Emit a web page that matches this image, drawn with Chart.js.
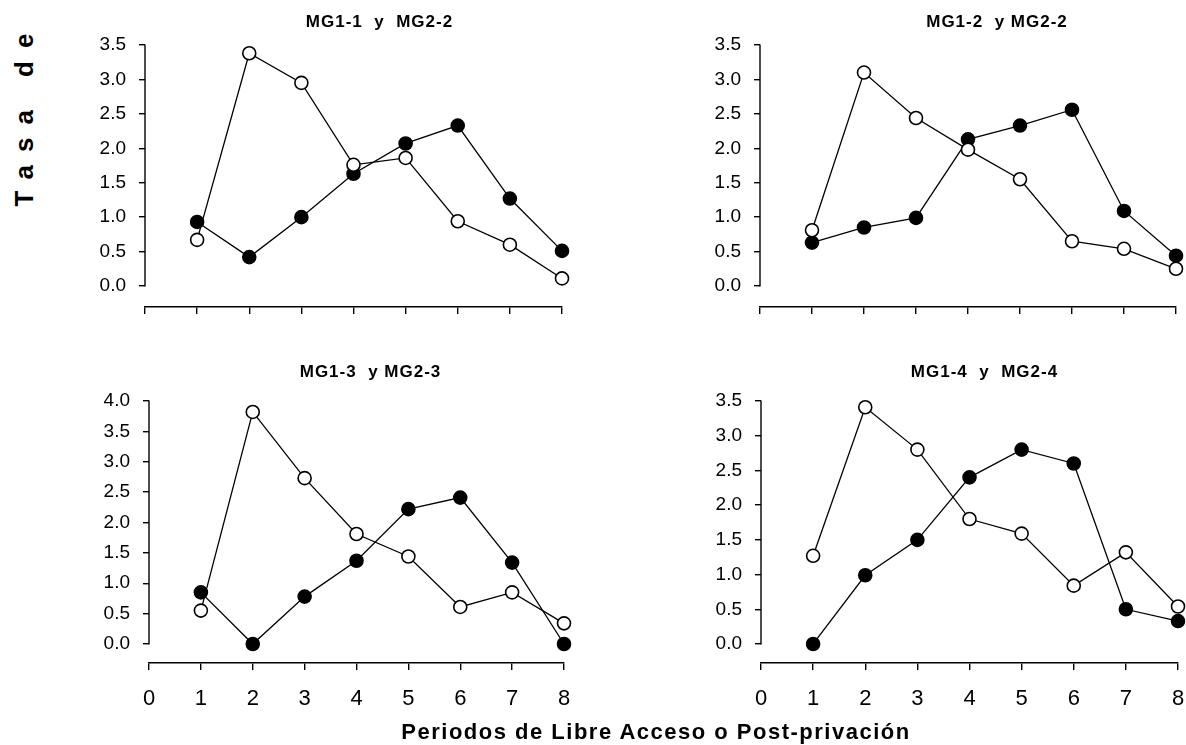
<!DOCTYPE html>
<html>
<head>
<meta charset="utf-8">
<script src="https://cdn.jsdelivr.net/npm/chart.js@4.4.1/dist/chart.umd.min.js"></script>
<style>
  body { margin: 0; background: #fff; }
  #wrap { position: relative; width: 1186px; height: 745px; overflow: hidden; background: #fff; }
  canvas { position: absolute; }
  .lbl { position: absolute; font-family: "Liberation Sans", Arial, sans-serif; font-weight: bold; color: #000; white-space: nowrap; text-align: center; }
  #ytitle { left: -96px; top: 105px; width: 240px; height: 30px; line-height: 30px; font-size: 26px; letter-spacing: 13px; text-indent: 13px; transform: rotate(-90deg); }
  #xtitle { left: 256px; top: 717px; width: 800px; height: 30px; line-height: 30px; font-size: 22px; letter-spacing: 1.5px; }
</style>
</head>
<body>
<div id="wrap">
  <canvas id="c1"></canvas>
  <canvas id="c2"></canvas>
  <canvas id="c3"></canvas>
  <canvas id="c4"></canvas>
  <div class="lbl" id="ytitle">Tasa de</div>
  <div class="lbl" id="xtitle">Periodos de Libre Acceso o Post-privación</div>
</div>
<script>
// periods on the x axis
const periods = [1, 2, 3, 4, 5, 6, 7, 8];
const xTicks = [0, 1, 2, 3, 4, 5, 6, 7, 8];
const yTicks35 = [0, 0.5, 1, 1.5, 2, 2.5, 3, 3.5];
const yTicks40 = [0, 0.5, 1, 1.5, 2, 2.5, 3, 3.5, 4];

const titles = ['MG1-1  y  MG2-2', 'MG1-2  y MG2-2', 'MG1-3  y MG2-3', 'MG1-4  y  MG2-4'];

// open circles
const open1 = [0.67, 3.38, 2.95, 1.76, 1.86, 0.94, 0.60, 0.11];
const open2 = [0.81, 3.10, 2.44, 1.98, 1.55, 0.65, 0.54, 0.25];
const open3 = [0.55, 3.82, 2.73, 1.81, 1.44, 0.61, 0.85, 0.34];
const open4 = [1.27, 3.41, 2.80, 1.80, 1.59, 0.84, 1.32, 0.54];
// filled circles
const filled1 = [0.93, 0.42, 1.00, 1.63, 2.07, 2.33, 1.27, 0.51];
const filled2 = [0.63, 0.85, 0.99, 2.13, 2.33, 2.56, 1.09, 0.44];
const filled3 = [0.85, 0.00, 0.78, 1.37, 2.22, 2.41, 1.34, 0.00];
const filled4 = [0.00, 0.99, 1.50, 2.40, 2.80, 2.60, 0.50, 0.33];

const FONT = '"Liberation Sans", Arial, sans-serif';
const PAD_L = 100, PAD_T = 50, PAD_R = 30, PAD_B = 60;

// plot boxes on the page
const panels = [
  { id: 'c1', left: 145, right: 562, top: 45,  bottom: 307, yMin: -0.305, yMax: 3.5, yTicks: yTicks35, xLabels: false, dx: 26, dy: 23, open: open1, filled: filled1, title: titles[0] },
  { id: 'c2', left: 760, right: 1176, top: 45, bottom: 307, yMin: -0.305, yMax: 3.5, yTicks: yTicks35, xLabels: false, dx: 29, dy: 23, open: open2, filled: filled2, title: titles[1] },
  { id: 'c3', left: 149, right: 564, top: 401, bottom: 663, yMin: -0.313, yMax: 4.0, yTicks: yTicks40, xLabels: true, dx: 14, dy: 29, open: open3, filled: filled3, title: titles[2] },
  { id: 'c4', left: 761, right: 1178, top: 401, bottom: 663, yMin: -0.274, yMax: 3.5, yTicks: yTicks35, xLabels: true, dx: 15, dy: 29, open: open4, filled: filled4, title: titles[3] }
];

// y axis line only spans 0..max, plus the panel heading
const panelDecor = {
  id: 'panelDecor',
  afterDraw(chart, args, opts) {
    const { ctx, chartArea: a } = chart;
    const y = chart.scales.y;
    ctx.save();
    ctx.strokeStyle = '#000';
    ctx.lineWidth = 1.4;
    ctx.beginPath();
    ctx.moveTo(a.left, y.getPixelForValue(0) + 0.5);
    ctx.lineTo(a.left, y.getPixelForValue(opts.yMax) - 0.5);
    ctx.stroke();
    ctx.fillStyle = '#000';
    ctx.font = 'bold 17px ' + FONT;
    ctx.letterSpacing = '1px';
    ctx.textAlign = 'center';
    ctx.textBaseline = 'middle';
    ctx.fillText(opts.text, (a.left + a.right) / 2 + opts.dx, a.top - opts.dy);
    ctx.restore();
  }
};

function series(vals, fill) {
  return {
    data: periods.map((p, i) => ({ x: p, y: vals[i] })),
    borderColor: '#000',
    borderWidth: 1.3,
    pointRadius: 6.5,
    pointBorderWidth: 1.6,
    pointBorderColor: '#000',
    pointBackgroundColor: fill,
    tension: 0,
    clip: false
  };
}

panels.forEach(p => {
  const cv = document.getElementById(p.id);
  const w = p.right - p.left + PAD_L + PAD_R;
  const h = p.bottom - p.top + PAD_T + PAD_B;
  cv.width = w; cv.height = h;
  cv.style.left = (p.left - PAD_L) + 'px';
  cv.style.top = (p.top - PAD_T) + 'px';

  new Chart(cv, {
    type: 'line',
    data: { datasets: [series(p.open, '#fff'), series(p.filled, '#000')] },
    plugins: [panelDecor],
    options: {
      responsive: false,
      animation: false,
      devicePixelRatio: 1,
      layout: { autoPadding: false, padding: { left: 0, top: PAD_T, right: PAD_R, bottom: 0 } },
      plugins: {
        legend: { display: false },
        tooltip: { enabled: false },
        panelDecor: { text: p.title, dx: p.dx, dy: p.dy, yMax: p.yMax }
      },
      scales: {
        x: {
          type: 'linear',
          min: 0, max: 8,
          border: { display: true, color: '#000', width: 1.4 },
          grid: { display: true, drawOnChartArea: false, drawTicks: true, tickLength: 7, color: '#000', lineWidth: 1.4 },
          ticks: { display: p.xLabels, color: '#000', padding: 16, font: { family: FONT, size: 22 }, callback: v => String(v) },
          afterBuildTicks: s => { s.ticks = xTicks.map(v => ({ value: v })); },
          afterFit: s => { s.height = PAD_B; }
        },
        y: {
          min: p.yMin, max: p.yMax,
          border: { display: false },
          grid: { display: true, drawOnChartArea: false, drawTicks: true, tickLength: 6, color: '#000', lineWidth: 1.4 },
          ticks: { color: '#000', padding: 13, font: { family: FONT, size: 19 }, callback: v => v.toFixed(1) },
          afterBuildTicks: s => { s.ticks = p.yTicks.map(v => ({ value: v })); },
          afterFit: s => { s.width = PAD_L; }
        }
      }
    }
  });
});
</script>
</body>
</html>
